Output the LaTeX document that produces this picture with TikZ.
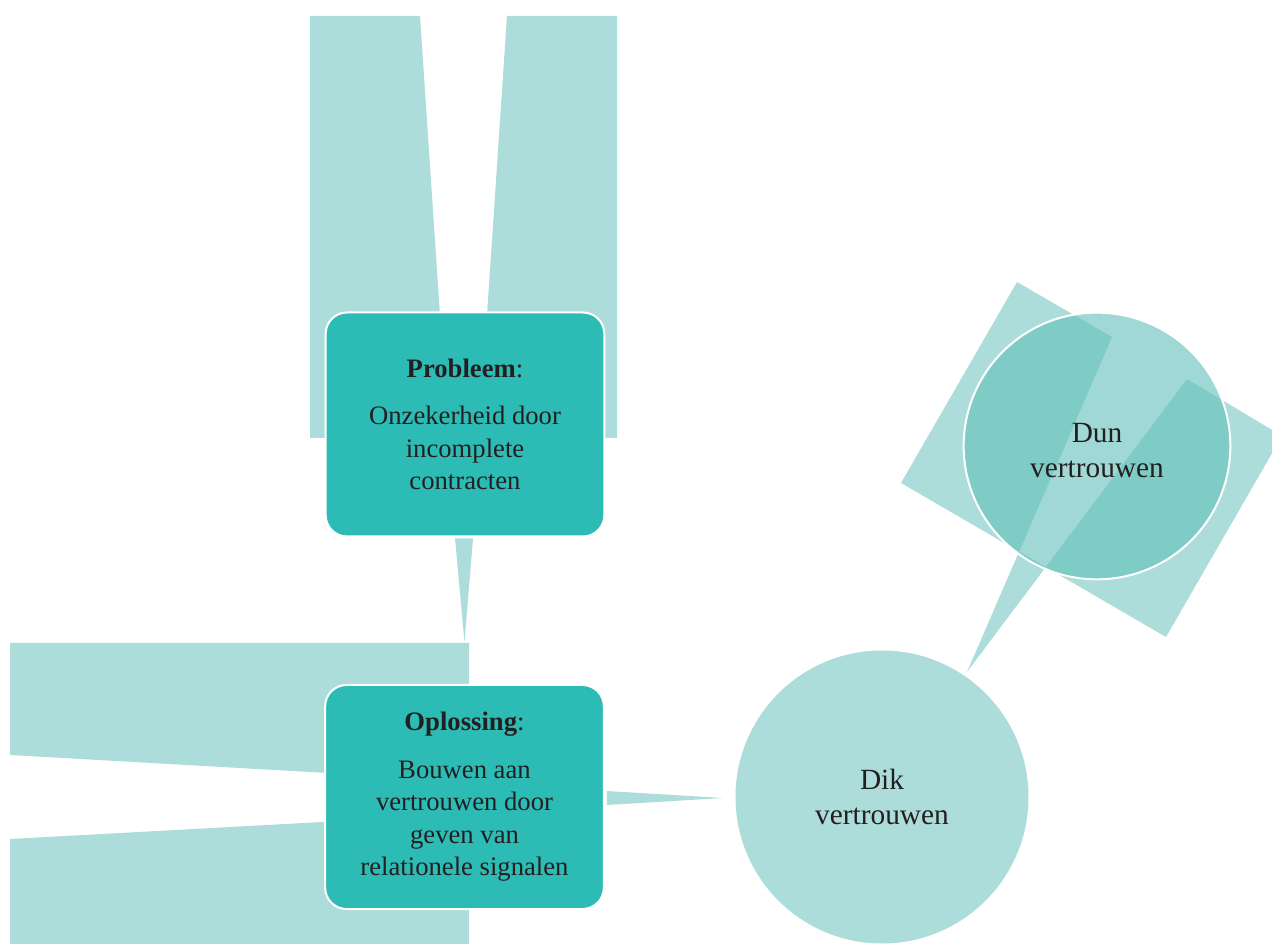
\documentclass[tikz,border=0pt]{standalone}
\usepackage{fontspec}
\setmainfont{Liberation Serif}
\usetikzlibrary{calc}
\definecolor{lightteal}{HTML}{ADDDDA}
\definecolor{boxteal}{HTML}{2CBBB5}
\definecolor{txt}{HTML}{231F20}
\definecolor{dunfill}{RGB}{100,192,186}
\pgfdeclarelayer{back}
\pgfsetlayers{back,main}
\begin{document}
\begin{tikzpicture}[x=0.75pt,y=-0.75pt,
  bgshape/.style={fill=lightteal, draw=none},
  boxnode/.style={rectangle, rounded corners=16pt, fill=boxteal, draw=white, line width=1.5pt,
    minimum width=209pt, minimum height=168pt, align=center, text=txt, inner sep=0pt,
    font=\fontsize{20pt}{24.4pt}\selectfont},
  circnode/.style={circle, minimum size=219.75pt, inner sep=0pt, align=center, text=txt,
    font=\fontsize{22pt}{26.25pt}\selectfont}]
\useasboundingbox (0,0) rectangle (1272,944);

% main nodes
\node[boxnode] (prob) at (465,424.5) {\textbf{Probleem}:\\[11pt]Onzekerheid door\\incomplete\\contracten};
\node[boxnode] (opl) at (464.5,797) {\textbf{Oplossing}:\\[11pt]Bouwen aan\\vertrouwen door\\geven van\\relationele signalen};
\node[circnode, fill=lightteal] (dik) at (882,797) {Dik\\vertrouwen};
\node[circnode, fill=dunfill, fill opacity=0.62, text opacity=1, draw=white, line width=1.5pt, minimum size=200pt] (dun) at (1097,446) {\rule{0pt}{21pt}Dun\\vertrouwen};

\coordinate (tip) at (967,672);
\coordinate (dunA) at (1112,337);
\coordinate (dunB) at (1187,379);

\begin{pgfonlayer}{back}
  % shapes around Probleem
  \fill[bgshape] (310,16) -- (420,16) -- (441,330) -- (441,438) -- (310,438) -- cycle;
  \fill[bgshape] (507,16) -- (617,16) -- (617,438) -- (486,438) -- (486,330) -- cycle;
  % shapes around Oplossing
  \fill[bgshape] (10,643) -- (469,643) -- (469,781) -- (10,755) -- cycle;
  \fill[bgshape] (10,839) -- (469,814) -- (469,944) -- (10,944) -- cycle;
  % connector Probleem -> Oplossing
  \fill[bgshape] ($(prob.south)+(-10,1)$) -- ($(prob.south)+(8,1)$) -- ($(opl.north)+(0,-42)$) -- cycle;
  % connector Oplossing -> Dik
  \fill[bgshape] ($(opl.east)+(2,-6)$) -- ($(opl.east)+(2,8)$) -- ($(dik.west)+(-12,1)$) -- cycle;
  % rotated rectangle behind Dun, notched by the connector from Dik
  \begin{scope}
    \clip (0,0) rectangle (1272,944);
    \fill[bgshape, even odd rule] (1017,282) -- (dunA) -- (tip) -- (dunB) -- (1282,436) -- (1166,637) -- (901,483) -- cycle;
  \end{scope}
\end{pgfonlayer}
\end{tikzpicture}
\end{document}
